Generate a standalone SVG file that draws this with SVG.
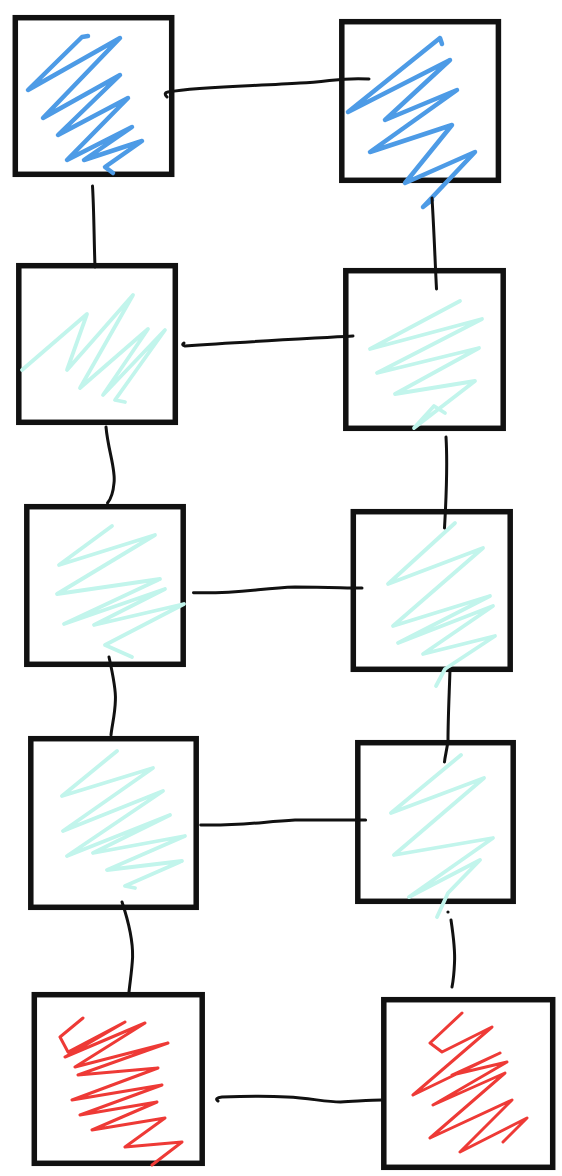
<svg xmlns="http://www.w3.org/2000/svg" width="562" height="1176" viewBox="0 0 562 1176">
<style>
.box{fill:none;stroke:#111;stroke-width:5.5}
.sc{fill:none;stroke-linejoin:round;stroke-linecap:round}
.blue{stroke:#4d9be6;stroke-width:4.5}
.cyan{stroke:#c2f5ec;stroke-width:3.8}
.red{stroke:#ee3a36;stroke-width:3}
.link{fill:none;stroke:#111;stroke-width:3;stroke-linecap:round;stroke-linejoin:round}
</style>
<rect width="562" height="1176" fill="#ffffff"/>
<g id="nodeA">
<rect class="box" x="15.3" y="17.7" width="156.4" height="156.6"/>
<polyline class="sc blue" points="88,36 82,37 28,90 120,38 43,118 120,75 58,135 128,98 67,160 132,127 84,160 142,141 105,167 113,173"/>
</g>
<g id="nodeB">
<rect class="box" x="341.8" y="21.7" width="156.6" height="158.6"/>
<polyline class="sc blue" points="442,44 440,38 348,112 450,60 385,120 457,90 370,152 452,125 405,183 475,152 423,207 432,200"/>
</g>
<g id="nodeC">
<rect class="box" x="18.8" y="265.7" width="156.5" height="156.6"/>
<polyline class="sc cyan" points="22,370 87,314 67,370 133,295 80,388 148,329 103,395 165,330 115,400 125,402"/>
</g>
<g id="nodeD">
<rect class="box" x="345.8" y="270.7" width="157.4" height="157.6"/>
<polyline class="sc cyan" points="460,301 370,349 482,319 377,373 479,348 395,394 475,381 414,428 434,406 445,413"/>
</g>
<g id="nodeE">
<rect class="box" x="26.8" y="506.7" width="156.4" height="157.6"/>
<polyline class="sc cyan" points="112,526 59,565 155,535 57,594 160,579 64,624 165,589 94,625 184,604 105,645 132,657"/>
</g>
<g id="nodeF">
<rect class="box" x="353.3" y="511.7" width="156.9" height="157.6"/>
<polyline class="sc cyan" points="455,523 388,584 483,548 393,626 490,596 398,643 493,606 423,654 495,636 445,669 436,686"/>
</g>
<g id="nodeG">
<rect class="box" x="30.8" y="738.7" width="165.4" height="168.6"/>
<polyline class="sc cyan" points="117,751 62,796 153,768 63,831 163,791 67,856 170,815 93,853 185,836 107,870 182,861 125,886 135,888"/>
</g>
<g id="nodeH">
<rect class="box" x="357.8" y="742.7" width="155.4" height="158.6"/>
<polyline class="sc cyan" points="461,755 391,813 484,778 394,855 493,838 409,897 480,860 448,893 437,917"/>
</g>
<g id="nodeI">
<rect class="box" x="34.3" y="994.7" width="167.9" height="168.6"/>
<polyline class="sc red" points="83,1018 60,1037 68,1052 125,1022 65,1057 145,1023 75,1067 168,1043 78,1075 158,1068 72,1100 162,1085 80,1115 157,1102 92,1130 165,1118 125,1147 182,1142 152,1165"/>
</g>
<g id="nodeJ">
<rect class="box" x="383.8" y="999.7" width="168.9" height="167.6"/>
<polyline class="sc red" points="462,1013 430,1043 442,1052 492,1027 413,1095 500,1053 452,1075 507,1062 433,1105 505,1073 430,1138 512,1100 460,1152 527,1118 503,1142"/>
</g>
<g id="connectors">
<path class="link" d="M167,97 Q163,93 168,92 C200,86 260,86 300,83 C330,82 340,77 369,79"/>
<path class="link" d="M92.5,186 C94,210 94,240 95,267"/>
<path class="link" d="M432,198 C434,230 435,260 436.5,289"/>
<path class="link" d="M184,343 Q181,345 185,346 C240,342 300,339 353,336"/>
<path class="link" d="M106,427 C108,450 116,470 114,483 C113,495 110,500 107.5,503"/>
<path class="link" d="M446,437 C448,470 446,500 444.5,528"/>
<path class="link" d="M193.5,592.7 C240,594 260,588 295,587 C330,587 345,588 362,588"/>
<path class="link" d="M109,657 C113,675 116,690 115.4,700 C115,715 112,725 111,735"/>
<path class="link" d="M450,670 C449,700 448,720 448,740 C447,750 445,756 444.5,762"/>
<path class="link" d="M200.7,825 C240,826 260,822 295,820 C330,820 345,820 365.6,820"/>
<path class="link" d="M122,902 C128,920 133,940 132.6,957 C132,970 130,982 129,992"/>
<circle cx="448" cy="912" r="1.6" fill="#111"/>
<path class="link" d="M451,920 C454,940 455,955 454.5,963 C454,975 453,982 452,987"/>
<path class="link" d="M218,1101 Q214,1098 222,1097 C250,1096 270,1096 287,1097 C310,1098 325,1102 340.5,1102 C360,1101 372,1100 381.7,1100"/>
</g>
</svg>
